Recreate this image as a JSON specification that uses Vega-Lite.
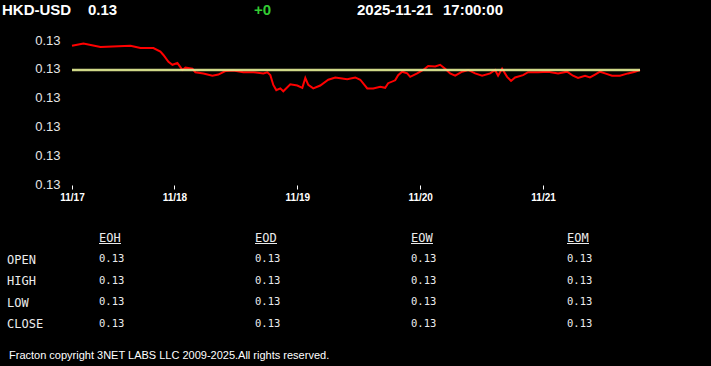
{
  "$schema": "https://vega.github.io/schema/vega-lite/v6.json",
  "width": 711,
  "height": 366,
  "padding": 0,
  "autosize": {"type": "none"},
  "background": "#000000",
  "config": {"view": {"stroke": null}},
  "datasets": {
    "series": [
      {"t": "2025-11-17T04:00", "v": 0.128640},
      {"t": "2025-11-17T06:14", "v": 0.128644},
      {"t": "2025-11-17T09:34", "v": 0.128638},
      {"t": "2025-11-17T15:25", "v": 0.128640},
      {"t": "2025-11-17T17:22", "v": 0.128636},
      {"t": "2025-11-17T19:54", "v": 0.128636},
      {"t": "2025-11-17T21:16", "v": 0.128630},
      {"t": "2025-11-17T21:51", "v": 0.128624},
      {"t": "2025-11-17T22:50", "v": 0.128612},
      {"t": "2025-11-17T23:37", "v": 0.128607},
      {"t": "2025-11-18T00:35", "v": 0.128610},
      {"t": "2025-11-18T01:34", "v": 0.128598},
      {"t": "2025-11-18T02:09", "v": 0.128602},
      {"t": "2025-11-18T03:31", "v": 0.128600},
      {"t": "2025-11-18T04:06", "v": 0.128594},
      {"t": "2025-11-18T05:40", "v": 0.128592},
      {"t": "2025-11-18T07:25", "v": 0.128588},
      {"t": "2025-11-18T08:35", "v": 0.128590},
      {"t": "2025-11-18T09:57", "v": 0.128596},
      {"t": "2025-11-18T11:31", "v": 0.128597},
      {"t": "2025-11-18T13:28", "v": 0.128594},
      {"t": "2025-11-18T15:25", "v": 0.128594},
      {"t": "2025-11-18T17:22", "v": 0.128592},
      {"t": "2025-11-18T18:09", "v": 0.128594},
      {"t": "2025-11-18T18:44", "v": 0.128589},
      {"t": "2025-11-18T19:19", "v": 0.128572},
      {"t": "2025-11-18T19:54", "v": 0.128563},
      {"t": "2025-11-18T20:41", "v": 0.128566},
      {"t": "2025-11-18T21:16", "v": 0.128561},
      {"t": "2025-11-18T22:38", "v": 0.128573},
      {"t": "2025-11-19T00:00", "v": 0.128571},
      {"t": "2025-11-19T00:59", "v": 0.128567},
      {"t": "2025-11-19T01:34", "v": 0.128584},
      {"t": "2025-11-19T02:09", "v": 0.128572},
      {"t": "2025-11-19T03:07", "v": 0.128566},
      {"t": "2025-11-19T04:29", "v": 0.128571},
      {"t": "2025-11-19T06:03", "v": 0.128581},
      {"t": "2025-11-19T07:25", "v": 0.128585},
      {"t": "2025-11-19T09:45", "v": 0.128582},
      {"t": "2025-11-19T11:19", "v": 0.128585},
      {"t": "2025-11-19T12:18", "v": 0.128581},
      {"t": "2025-11-19T13:40", "v": 0.128566},
      {"t": "2025-11-19T14:50", "v": 0.128566},
      {"t": "2025-11-19T16:12", "v": 0.128569},
      {"t": "2025-11-19T17:10", "v": 0.128567},
      {"t": "2025-11-19T17:45", "v": 0.128575},
      {"t": "2025-11-19T19:07", "v": 0.128580},
      {"t": "2025-11-19T19:42", "v": 0.128589},
      {"t": "2025-11-19T20:29", "v": 0.128595},
      {"t": "2025-11-19T21:28", "v": 0.128592},
      {"t": "2025-11-19T22:03", "v": 0.128586},
      {"t": "2025-11-19T23:25", "v": 0.128592},
      {"t": "2025-11-20T00:35", "v": 0.128598},
      {"t": "2025-11-20T01:34", "v": 0.128605},
      {"t": "2025-11-20T02:56", "v": 0.128604},
      {"t": "2025-11-20T03:54", "v": 0.128607},
      {"t": "2025-11-20T04:53", "v": 0.128600},
      {"t": "2025-11-20T05:51", "v": 0.128592},
      {"t": "2025-11-20T06:50", "v": 0.128588},
      {"t": "2025-11-20T08:12", "v": 0.128595},
      {"t": "2025-11-20T09:22", "v": 0.128598},
      {"t": "2025-11-20T10:44", "v": 0.128592},
      {"t": "2025-11-20T12:06", "v": 0.128588},
      {"t": "2025-11-20T13:40", "v": 0.128592},
      {"t": "2025-11-20T14:38", "v": 0.128598},
      {"t": "2025-11-20T15:13", "v": 0.128588},
      {"t": "2025-11-20T16:00", "v": 0.128600},
      {"t": "2025-11-20T16:59", "v": 0.128586},
      {"t": "2025-11-20T17:45", "v": 0.128579},
      {"t": "2025-11-20T18:32", "v": 0.128585},
      {"t": "2025-11-20T20:06", "v": 0.128589},
      {"t": "2025-11-20T21:04", "v": 0.128594},
      {"t": "2025-11-20T23:01", "v": 0.128594},
      {"t": "2025-11-21T00:59", "v": 0.128595},
      {"t": "2025-11-21T02:56", "v": 0.128592},
      {"t": "2025-11-21T04:41", "v": 0.128595},
      {"t": "2025-11-21T05:51", "v": 0.128588},
      {"t": "2025-11-21T06:50", "v": 0.128584},
      {"t": "2025-11-21T08:12", "v": 0.128588},
      {"t": "2025-11-21T09:10", "v": 0.128585},
      {"t": "2025-11-21T10:09", "v": 0.128590},
      {"t": "2025-11-21T11:07", "v": 0.128595},
      {"t": "2025-11-21T12:06", "v": 0.128592},
      {"t": "2025-11-21T13:28", "v": 0.128588},
      {"t": "2025-11-21T15:01", "v": 0.128588},
      {"t": "2025-11-21T16:35", "v": 0.128592},
      {"t": "2025-11-21T17:57", "v": 0.128595},
      {"t": "2025-11-21T18:56", "v": 0.128598}
    ],
    "ref": [
      {"t0": "2025-11-17T04:00", "t1": "2025-11-21T18:56", "v": 0.128598}
    ],
    "header": [
      {"item": "symbol", "text": "HKD-USD"},
      {"item": "price", "text": "0.13"},
      {"item": "change", "text": "+0"},
      {"item": "date", "text": "2025-11-21"},
      {"item": "time", "text": "17:00:00"}
    ],
    "cells": [
      {"row": "OPEN", "col": "EOH", "val": 0.13},
      {"row": "OPEN", "col": "EOD", "val": 0.13},
      {"row": "OPEN", "col": "EOW", "val": 0.13},
      {"row": "OPEN", "col": "EOM", "val": 0.13},
      {"row": "HIGH", "col": "EOH", "val": 0.13},
      {"row": "HIGH", "col": "EOD", "val": 0.13},
      {"row": "HIGH", "col": "EOW", "val": 0.13},
      {"row": "HIGH", "col": "EOM", "val": 0.13},
      {"row": "LOW", "col": "EOH", "val": 0.13},
      {"row": "LOW", "col": "EOD", "val": 0.13},
      {"row": "LOW", "col": "EOW", "val": 0.13},
      {"row": "LOW", "col": "EOM", "val": 0.13},
      {"row": "CLOSE", "col": "EOH", "val": 0.13},
      {"row": "CLOSE", "col": "EOD", "val": 0.13},
      {"row": "CLOSE", "col": "EOW", "val": 0.13},
      {"row": "CLOSE", "col": "EOM", "val": 0.13}
    ],
    "cols": [
      {"col": "EOH", "row": "head"},
      {"col": "EOD", "row": "head"},
      {"col": "EOW", "row": "head"},
      {"col": "EOM", "row": "head"}
    ],
    "rows": [
      {"kind": "label", "row": "OPEN"},
      {"kind": "label", "row": "HIGH"},
      {"kind": "label", "row": "LOW"},
      {"kind": "label", "row": "CLOSE"}
    ],
    "footer": [
      {"text": "Fracton copyright 3NET LABS LLC 2009-2025.All rights reserved."}
    ]
  },
  "layer": [
    {
      "layer": [
        {
          "data": {"name": "series"},
          "mark": {"type": "line", "color": "#ff0000", "strokeWidth": 2},
          "encoding": {
            "x": {
              "field": "t", "type": "temporal",
              "scale": {"range": [72, 640], "nice": false},
              "axis": {
                "orient": "bottom",
                "values": [
                  {"year": 2025, "month": 11, "date": 17, "hours": 4},
                  {"year": 2025, "month": 11, "date": 18},
                  {"year": 2025, "month": 11, "date": 19},
                  {"year": 2025, "month": 11, "date": 20},
                  {"year": 2025, "month": 11, "date": 21}
                ],
                "format": "%m/%d", "title": null, "grid": false, "domain": false,
                "tickColor": "#ffffff", "tickSize": 4, "tickWidth": 1,
                "labelColor": "#ffffff", "labelFont": "Liberation Sans", "labelFontSize": 10,
                "labelFontWeight": "bold", "labelPadding": 3, "labelFlush": false,
                "labelOverlap": false, "offset": -181
              }
            },
            "y": {
              "field": "v", "type": "quantitative",
              "scale": {"domain": [0.1284, 0.12865], "range": [184, 40], "zero": false, "nice": false},
              "axis": {
                "orient": "left",
                "values": [0.1284, 0.12845, 0.1285, 0.12855, 0.1286, 0.12865],
                "format": ".2f", "title": null, "grid": false, "domain": false,
                "ticks": false, "tickSize": 0, "labelPadding": 2,
                "labelColor": "#e6e6e6", "labelFont": "Liberation Sans", "labelFontSize": 13,
                "offset": -62
              }
            }
          }
        },
        {
          "data": {"name": "ref"},
          "mark": {"type": "rule", "color": "#e2ea94", "strokeWidth": 2.5, "opacity": 0.92},
          "encoding": {
            "x": {"field": "t0", "type": "temporal"},
            "x2": {"field": "t1"},
            "y": {"field": "v", "type": "quantitative"}
          }
        }
      ]
    },
    {
      "data": {"name": "header"},
      "transform": [{"filter": "datum.item === 'symbol' || datum.item === 'price'"}],
      "mark": {"type": "text", "align": "left", "baseline": "alphabetic", "font": "Liberation Sans", "fontSize": 15, "fontWeight": "bold", "color": "#ffffff"},
      "encoding": {
        "x": {"field": "item", "type": "nominal", "scale": {"type": "point", "domain": ["symbol", "price"], "range": [2, 88], "padding": 0}, "axis": null},
        "y": {"field": "item", "type": "nominal", "scale": {"type": "point", "range": [15, 15], "padding": 0}, "axis": null},
        "text": {"field": "text"}
      }
    },
    {
      "data": {"name": "header"},
      "transform": [{"filter": "datum.item === 'change'"}],
      "mark": {"type": "text", "align": "left", "baseline": "alphabetic", "font": "Liberation Sans", "fontSize": 15, "fontWeight": "bold", "color": "#33cc33"},
      "encoding": {
        "x": {"field": "item", "type": "nominal", "scale": {"type": "point", "domain": ["change"], "range": [254, 254], "padding": 0}, "axis": null},
        "y": {"field": "item", "type": "nominal", "scale": {"type": "point", "range": [15, 15], "padding": 0}, "axis": null},
        "text": {"field": "text"}
      }
    },
    {
      "data": {"name": "header"},
      "transform": [{"filter": "datum.item === 'date' || datum.item === 'time'"}],
      "mark": {"type": "text", "align": "left", "baseline": "alphabetic", "font": "Liberation Sans", "fontSize": 15, "fontWeight": "bold", "color": "#ffffff"},
      "encoding": {
        "x": {"field": "item", "type": "nominal", "scale": {"type": "point", "domain": ["date", "time"], "range": [357, 443], "padding": 0}, "axis": null},
        "y": {"field": "item", "type": "nominal", "scale": {"type": "point", "range": [15, 15], "padding": 0}, "axis": null},
        "text": {"field": "text"}
      }
    },
    {
      "data": {"name": "cols"},
      "mark": {"type": "text", "align": "left", "baseline": "alphabetic", "font": "DejaVu Sans Mono", "fontSize": 12, "color": "#ececec"},
      "encoding": {
        "x": {"field": "col", "type": "nominal", "scale": {"type": "point", "domain": ["EOH", "EOD", "EOW", "EOM"], "range": [99, 567], "padding": 0}, "axis": null},
        "y": {"field": "row", "type": "nominal", "scale": {"type": "point", "domain": ["head", "OPEN", "HIGH", "LOW", "CLOSE"], "range": [242, 328], "padding": 0}, "axis": null},
        "text": {"field": "col"}
      }
    },
    {
      "data": {"name": "cols"},
      "mark": {"type": "rule", "color": "#ececec", "strokeWidth": 1, "x2Offset": 22, "yOffset": 1.5},
      "encoding": {
        "x": {"field": "col", "type": "nominal", "scale": {"type": "point", "domain": ["EOH", "EOD", "EOW", "EOM"], "range": [99, 567], "padding": 0}, "axis": null},
        "x2": {"field": "col"},
        "y": {"field": "row", "type": "nominal", "scale": {"type": "point", "domain": ["head", "OPEN", "HIGH", "LOW", "CLOSE"], "range": [242, 328], "padding": 0}, "axis": null}
      }
    },
    {
      "data": {"name": "cells"},
      "mark": {"type": "text", "align": "left", "baseline": "alphabetic", "font": "DejaVu Sans Mono", "fontSize": 10.5, "color": "#ececec", "dy": -1.5},
      "encoding": {
        "x": {"field": "col", "type": "nominal", "scale": {"type": "point", "domain": ["EOH", "EOD", "EOW", "EOM"], "range": [99, 567], "padding": 0}, "axis": null},
        "y": {"field": "row", "type": "nominal", "scale": {"type": "point", "domain": ["head", "OPEN", "HIGH", "LOW", "CLOSE"], "range": [242, 328], "padding": 0}, "axis": null},
        "text": {"field": "val", "format": ".2f"}
      }
    },
    {
      "data": {"name": "rows"},
      "mark": {"type": "text", "align": "left", "baseline": "alphabetic", "font": "DejaVu Sans Mono", "fontSize": 12, "color": "#ececec"},
      "encoding": {
        "x": {"field": "kind", "type": "nominal", "scale": {"type": "point", "domain": ["label"], "range": [7, 7], "padding": 0}, "axis": null},
        "y": {"field": "row", "type": "nominal", "scale": {"type": "point", "domain": ["head", "OPEN", "HIGH", "LOW", "CLOSE"], "range": [242, 328], "padding": 0}, "axis": null},
        "text": {"field": "row"}
      }
    },
    {
      "data": {"name": "footer"},
      "mark": {"type": "text", "align": "left", "baseline": "alphabetic", "font": "Liberation Sans", "fontSize": 11, "color": "#ffffff"},
      "encoding": {
        "x": {"field": "text", "type": "nominal", "scale": {"type": "point", "range": [9, 9], "padding": 0}, "axis": null},
        "y": {"field": "text", "type": "nominal", "scale": {"type": "point", "range": [359, 359], "padding": 0}, "axis": null},
        "text": {"field": "text"}
      }
    }
  ],
  "resolve": {"scale": {"x": "independent", "y": "independent"}}
}
